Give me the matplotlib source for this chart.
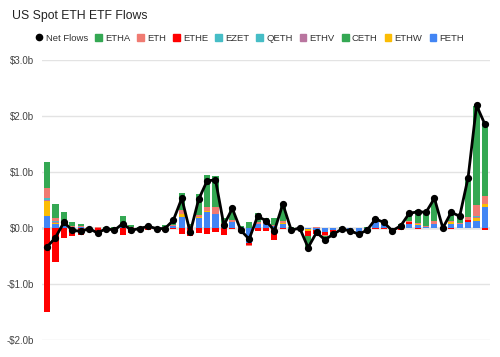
"""Weekly US spot ETH ETF flows: stacked bars per fund plus net flow line."""
import matplotlib

matplotlib.use("agg")
import matplotlib.pyplot as plt
import numpy as np
from matplotlib.lines import Line2D
from matplotlib.patches import Patch

plt.rcParams["font.family"] = ["Liberation Sans", "DejaVu Sans"]

# weekly flows in $b
etha = [0.45, 0.26, 0.21, 0.06, 0.03, 0.01, 0.00, 0.01, 0.01, 0.12,
        0.04, 0.01, 0.05, 0.01, 0.05, 0.08, 0.31, 0.04, 0.36, 0.57,
        0.55, 0.08, 0.22, 0.02, 0.11, 0.15, 0.08, 0.12, 0.31, 0.01,
        0.01, -0.22, 0.00, -0.07, -0.04, 0.01, 0.00, -0.02, 0.01, 0.02,
        0.02, 0.00, 0.03, 0.13, 0.23, 0.26, 0.41, 0.01, 0.16, 0.12,
        0.69, 1.77, 1.31]
eth = [0.18, 0.05, 0.03, 0.02, 0.02, 0.01, 0.01, 0.00, 0.00, 0.02,
       0.01, 0.00, 0.01, 0.00, 0.01, 0.03, 0.07, 0.01, 0.05, 0.08,
       0.12, 0.02, 0.04, 0.00, -0.02, 0.03, 0.03, 0.02, 0.04, 0.00,
       0.00, 0.00, 0.02, -0.02, 0.00, 0.00, 0.00, 0.00, 0.00, 0.03,
       0.02, 0.00, 0.01, 0.03, 0.02, 0.02, 0.05, 0.00, 0.03, 0.02,
       0.05, 0.20, 0.16]
ethe = [-1.50, -0.60, -0.18, -0.14, -0.13, -0.03, -0.10, -0.02, -0.05, -0.13,
        -0.09, -0.02, -0.03, -0.02, -0.06, -0.01, -0.11, -0.15, -0.09, -0.10,
        -0.07, -0.12, -0.02, -0.08, -0.04, -0.05, -0.05, -0.22, -0.01, -0.03,
        -0.01, -0.08, -0.07, -0.04, -0.03, -0.03, -0.02, -0.02, -0.02, -0.02,
        -0.01, -0.03, -0.03, 0.03, -0.02, 0.00, 0.00, -0.01, -0.01, 0.00,
        0.04, 0.00, -0.04]
ezet = [0.02, 0.01] + [0.0] * 49 + [0.01, 0.0]
qeth = [0.02, 0.01] + [0.0] * 49 + [0.01, 0.0]
ethv = [0.02, 0.01] + [0.0] * 49 + [0.01, 0.0]
ceth = [0.0] * 53
ethw = [0.27, 0.02, 0.01, 0.00, 0.01, 0.00, 0.00, 0.00, 0.00, 0.01,
        0.00, 0.00, 0.00, 0.00, 0.00, 0.00, 0.05, 0.00, 0.02, 0.02,
        0.00, 0.01, 0.01, 0.00, 0.00, 0.00, 0.00, 0.00, 0.01, 0.00,
        0.00, -0.04, 0.00, 0.00, 0.00, 0.00, 0.00, 0.00, 0.00, 0.03,
        0.00, 0.00, 0.00, 0.00, 0.01, 0.00, 0.00, 0.00, 0.02, 0.00,
        0.00, 0.05, 0.04]
feth = [0.21, 0.07, 0.03, 0.02, 0.01, 0.00, 0.00, 0.00, 0.00, 0.06,
        0.00, 0.00, 0.00, 0.00, 0.00, 0.03, 0.20, 0.02, 0.17, 0.28,
        0.25, 0.06, 0.10, 0.02, -0.26, 0.08, 0.07, 0.03, 0.08, -0.02,
        0.00, -0.02, -0.03, -0.08, -0.04, 0.00, -0.03, -0.07, -0.03, 0.10,
        0.07, -0.02, 0.03, 0.07, 0.06, 0.01, 0.07, 0.00, 0.08, 0.07,
        0.10, 0.13, 0.38]
net_flows = [-0.34, -0.17, 0.10, -0.04, -0.06, -0.01, -0.09, -0.01, -0.04, 0.08,
             -0.04, -0.01, 0.03, -0.01, -0.01, 0.14, 0.53, -0.08, 0.51, 0.84,
             0.86, 0.05, 0.35, -0.04, -0.20, 0.21, 0.13, -0.05, 0.43, -0.04,
             0.00, -0.35, -0.08, -0.21, -0.11, -0.02, -0.05, -0.11, -0.04, 0.16,
             0.10, -0.05, 0.04, 0.26, 0.29, 0.28, 0.53, 0.00, 0.28, 0.21,
             0.90, 2.19, 1.85]

names = ["ETHA", "ETH", "ETHE", "EZET", "QETH", "ETHV", "CETH", "ETHW", "FETH"]
series = [etha, eth, ethe, ezet, qeth, ethv, ceth, ethw, feth]
colors = ["#34a853", "#f07b72", "#ff0000", "#46bdc6", "#46bdc6",
          "#b9759f", "#34a853", "#fbbc04", "#4285f4"]

fig = plt.figure(figsize=(5.0, 3.57), dpi=100)
ax = fig.add_axes([0.084, 0.0476, 0.896, 0.7844])

x = np.arange(len(net_flows))
pos_base = np.zeros(len(x))
neg_base = np.zeros(len(x))
# last series sits at the bottom of the stack
for vals, color in zip(series[::-1], colors[::-1]):
    v = np.array(vals)
    base = np.where(v >= 0, pos_base, neg_base)
    ax.bar(x, v, 0.72, bottom=base, color=color, linewidth=0, zorder=2)
    pos_base += np.clip(v, 0, None)
    neg_base += np.clip(v, None, 0)

ax.plot(x, net_flows, color="black", lw=2, marker="o", ms=4.2, zorder=4)

ax.set_xlim(-0.6, 52.6)
ax.set_ylim(-2, 3)
ax.set_yticks([-2, -1, 0, 1, 2, 3])
ax.set_yticklabels(["-$2.0b", "-$1.0b", "$0.0b", "$1.0b", "$2.0b", "$3.0b"])
ax.set_xticks([])
ax.tick_params(axis="y", length=0, labelsize=7, labelcolor="#444444", pad=6)
ax.grid(axis="y", color="#e3e3e3", lw=1, zorder=0)
ax.axhline(0, color="#9e9e9e", lw=1, zorder=1)
for spine in ax.spines.values():
    spine.set_visible(False)

fig.text(0.024, 0.955, "US Spot ETH ETF Flows", fontsize=8.8, va="center",
         color="#222222")

handles = [Line2D([], [], color="black", marker="o", ls="none", ms=4.5)]
handles += [Patch(color=c) for c in colors]
fig.legend(handles, ["Net Flows"] + names, loc="center", ncol=10,
           bbox_to_anchor=(0.5, 0.893), frameon=False, fontsize=6.8,
           handlelength=0.7, handleheight=0.7, handletextpad=0.35,
           columnspacing=0.75, borderpad=0, labelcolor="#333333")

fig.savefig("out.png")
